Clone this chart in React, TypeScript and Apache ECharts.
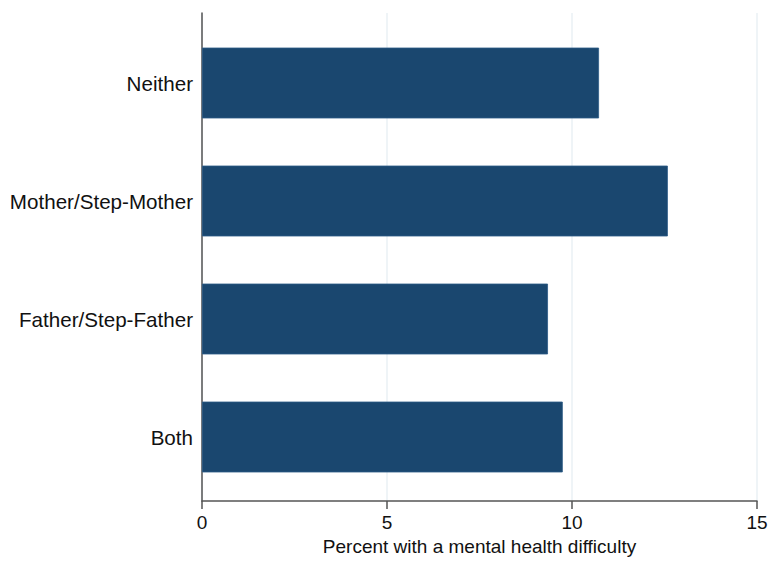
import React, { useEffect, useRef } from "react";
import * as echarts from "echarts";

const categories = ["Neither", "Mother/Step-Mother", "Father/Step-Father", "Both"];
const values = [10.73, 12.59, 9.35, 9.75];
const xTicks = [0, 5, 10, 15];
const xTitle = "Percent with a mental health difficulty";

const FONT = "'Liberation Sans', Arial, Helvetica, sans-serif";
const BAR = "#1a476f";
const AXIS = "#555555";

export default function App() {
  const ref = useRef<HTMLDivElement>(null);
  useEffect(() => {
    if (!ref.current) return;
    const chart = echarts.init(ref.current, undefined, { renderer: "svg" });
    chart.setOption({
      animation: false,
      backgroundColor: "#ffffff",
      textStyle: { fontFamily: FONT },
      grid: [
        { left: 202, right: 18, top: 13, bottom: 54, containLabel: false },
        { left: 202, right: 18, top: 24, height: 472, containLabel: false },
      ],
      xAxis: [
        {
          gridIndex: 0,
          type: "value",
          min: xTicks[0],
          max: xTicks[xTicks.length - 1],
          interval: 5,
          name: xTitle,
          nameLocation: "middle",
          nameGap: 33,
          nameTextStyle: { fontSize: 19, color: "#111", fontFamily: FONT },
          axisLine: { show: true, onZero: false, lineStyle: { color: AXIS, width: 1.5 } },
          axisTick: { show: true, length: 8, lineStyle: { color: AXIS, width: 1.5 } },
          axisLabel: { fontSize: 19, color: "#111", margin: 12, fontFamily: FONT },
          splitLine: { show: true, lineStyle: { color: "#eaf0f4", width: 1.5 } },
        },
        {
          gridIndex: 1,
          type: "value",
          min: xTicks[0],
          max: xTicks[xTicks.length - 1],
          show: false,
        },
      ],
      yAxis: [
        {
          gridIndex: 0,
          type: "value",
          min: 0,
          max: 1,
          axisLine: { show: true, lineStyle: { color: AXIS, width: 1.5 } },
          axisTick: { show: false },
          axisLabel: { show: false },
          splitLine: { show: false },
        },
        {
          gridIndex: 1,
          type: "category",
          data: categories,
          inverse: true,
          axisLine: { show: false },
          axisTick: { show: false },
          axisLabel: { fontSize: 20.6, color: "#111", margin: 9, fontFamily: FONT },
          splitLine: { show: false },
        },
      ],
      series: [
        {
          type: "bar",
          xAxisIndex: 1,
          yAxisIndex: 1,
          data: values,
          barCategoryGap: "40%",
          itemStyle: { color: BAR, borderColor: "#2c5a85", borderWidth: 0.8 },
        },
      ],
    });
    return () => chart.dispose();
  }, []);
  return (
    <div
      ref={ref}
      style={{ position: "fixed", left: 0, top: 0, width: 775, height: 561 }}
    />
  );
}
